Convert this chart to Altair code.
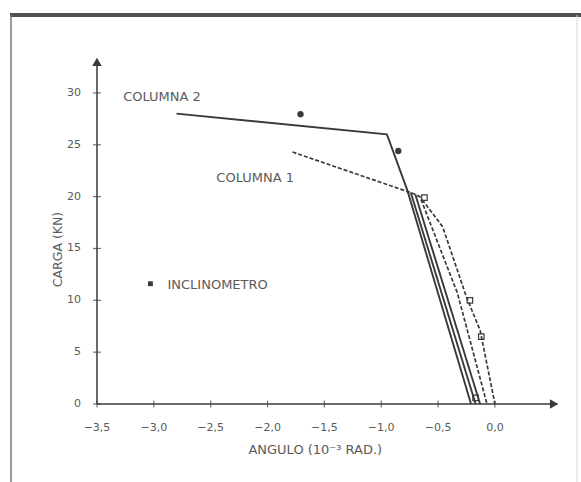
import altair as alt
import pandas as pd

# Load (kN) vs rotation (10^-3 rad) curves
col2_x = [-2.80, -0.95, -0.77, -0.21]
col2_y = [28.0, 26.0, 20.6, 0.0]
solid_b_x = [-0.74, -0.17]
solid_b_y = [20.4, 0.0]
solid_c_x = [-0.70, -0.13]
solid_c_y = [20.2, 0.0]

col1_x = [-1.78, -0.72, -0.66, -0.33, -0.07]
col1_y = [24.3, 20.3, 20.0, 10.7, 0.0]
dash_b_x = [-0.64, -0.46, -0.25, -0.13, 0.0]
dash_b_y = [19.7, 17.1, 10.3, 7.1, 0.0]

# Inclinometer readings
incl_x = [-1.71, -0.85]
incl_y = [27.95, 24.4]

# Open square markers on the dashed curves
sq_x = [-0.62, -0.22, -0.12, -0.17]
sq_y = [19.9, 10.0, 6.5, 0.6]

x_ticks = [-3.5, -3.0, -2.5, -2.0, -1.5, -1.0, -0.5, 0.0]
x_tick_labels = ["−3,5", "−3,0", "−2,5", "−2,0", "−1,5", "−1,0", "−0,5", "0,0"]
y_ticks = [0, 5, 10, 15, 20, 25, 30]
y_tick_labels = ["0", "5", "10", "15", "20", "25", "30"]

W, H = 581, 482
XS = alt.Scale(domain=[-4.353, 0.757], nice=False, zero=False)
YS = alt.Scale(domain=[-7.52, 38.96], nice=False, zero=False)
INK = "#3a3a3a"
TXT = "#5a5a5a"
FONT = "DejaVu Sans"


def series(name, xs, ys):
    return pd.DataFrame({"s": name, "x": xs, "y": ys, "o": range(len(xs))})


solid_df = pd.concat([
    series("c2", col2_x, col2_y),
    series("b", solid_b_x, solid_b_y),
    series("c", solid_c_x, solid_c_y),
])
dash_df = pd.concat([
    series("c1", col1_x, col1_y),
    series("d", dash_b_x, dash_b_y),
])

X = alt.X("x:Q", scale=XS, axis=None)
Y = alt.Y("y:Q", scale=YS, axis=None)

solid = alt.Chart(solid_df).mark_line(color=INK, strokeWidth=1.9).encode(
    x=X, y=Y, detail="s:N", order="o:Q")
dashed = alt.Chart(dash_df).mark_line(color=INK, strokeWidth=1.7, strokeDash=[4, 2]).encode(
    x=X, y=Y, detail="s:N", order="o:Q")

dots = alt.Chart(pd.DataFrame({"x": incl_x, "y": incl_y})).mark_point(
    filled=True, color=INK, size=40, opacity=1).encode(x=X, y=Y)
squares = alt.Chart(pd.DataFrame({"x": sq_x, "y": sq_y})).mark_point(
    shape="square", color=INK, size=30, strokeWidth=1.2, opacity=1).encode(x=X, y=Y)

# Axis lines with arrow heads
x_axis = alt.Chart(pd.DataFrame({"x": [-3.5], "x2": [0.55], "y": [0]})).mark_rule(
    color=INK, strokeWidth=1.5).encode(x=X, x2="x2:Q", y=Y)
y_axis = alt.Chart(pd.DataFrame({"x": [-3.5], "y": [0], "y2": [33.2]})).mark_rule(
    color=INK, strokeWidth=1.5).encode(x=X, y=Y, y2="y2:Q")
x_arrow = alt.Chart(pd.DataFrame({"x": [0.52], "y": [0]})).mark_point(
    shape="triangle-right", filled=True, color=INK, size=90, opacity=1).encode(x=X, y=Y)
y_arrow = alt.Chart(pd.DataFrame({"x": [-3.5], "y": [33.0]})).mark_point(
    shape="triangle-up", filled=True, color=INK, size=90, opacity=1).encode(x=X, y=Y)

x_tick_df = pd.DataFrame({"x": x_ticks, "y": [0] * len(x_ticks), "t": x_tick_labels})
y_tick_df = pd.DataFrame({"x": [-3.5] * len(y_ticks), "y": y_ticks, "t": y_tick_labels})

x_tick_marks = alt.Chart(x_tick_df).mark_tick(
    orient="vertical", size=7, thickness=1.2, color=INK).encode(x=X, y=Y)
y_tick_marks = alt.Chart(y_tick_df).mark_tick(
    orient="horizontal", size=8, thickness=1.2, color=INK).encode(x=X, y=Y)

x_labels = alt.Chart(x_tick_df).mark_text(
    font=FONT, fontSize=11, color=TXT, dy=24, baseline="middle").encode(x=X, y=Y, text="t:N")
y_labels = alt.Chart(y_tick_df).mark_text(
    font=FONT, fontSize=11, color=TXT, dx=-16, align="right", baseline="middle").encode(
    x=X, y=Y, text="t:N")

ann_df = pd.DataFrame({
    "x": [-3.27, -2.45, -2.88],
    "y": [29.6, 21.8, 11.5],
    "t": ["COLUMNA 2", "COLUMNA 1", "INCLINOMETRO"],
})
annotations = alt.Chart(ann_df).mark_text(
    font=FONT, fontSize=13, color=TXT, align="left", baseline="middle").encode(
    x=X, y=Y, text="t:N")
legend_dot = alt.Chart(pd.DataFrame({"x": [-3.03], "y": [11.6]})).mark_point(
    shape="square", filled=True, color=INK, size=24, opacity=1).encode(x=X, y=Y)

x_title = alt.Chart(pd.DataFrame({"x": [-1.58], "y": [-4.45], "t": ["ANGULO (10⁻³ RAD.)"]})).mark_text(
    font=FONT, fontSize=13, color=TXT, baseline="middle").encode(x=X, y=Y, text="t:N")
y_title = alt.Chart(pd.DataFrame({"x": [-3.84], "y": [14.9], "t": ["CARGA (KN)"]})).mark_text(
    font=FONT, fontSize=12.5, color=TXT, angle=270, baseline="middle").encode(x=X, y=Y, text="t:N")

# Frame around the figure
frame_top = alt.Chart(pd.DataFrame({"a": [0]})).mark_rule(color="#505050", strokeWidth=4).encode(
    x=alt.value(10), x2=alt.value(581), y=alt.value(15))
frame_left = alt.Chart(pd.DataFrame({"a": [0]})).mark_rule(color="#7a7a7a", strokeWidth=1.5).encode(
    x=alt.value(11), y=alt.value(15), y2=alt.value(482))
frame_right = alt.Chart(pd.DataFrame({"a": [0]})).mark_rule(color="#d8d8d8", strokeWidth=1).encode(
    x=alt.value(577), y=alt.value(15), y2=alt.value(482))

chart = alt.layer(
    frame_top, frame_left, frame_right,
    x_axis, y_axis, x_arrow, y_arrow,
    x_tick_marks, y_tick_marks, x_labels, y_labels,
    solid, dashed, dots, squares,
    annotations, legend_dot, x_title, y_title,
).properties(
    width=W, height=H, autosize=alt.AutoSizeParams(type="none"), padding=0,
    background="white",
).configure_view(stroke=None)

chart.save("out.html", embed_options={"renderer": "svg", "actions": False})
